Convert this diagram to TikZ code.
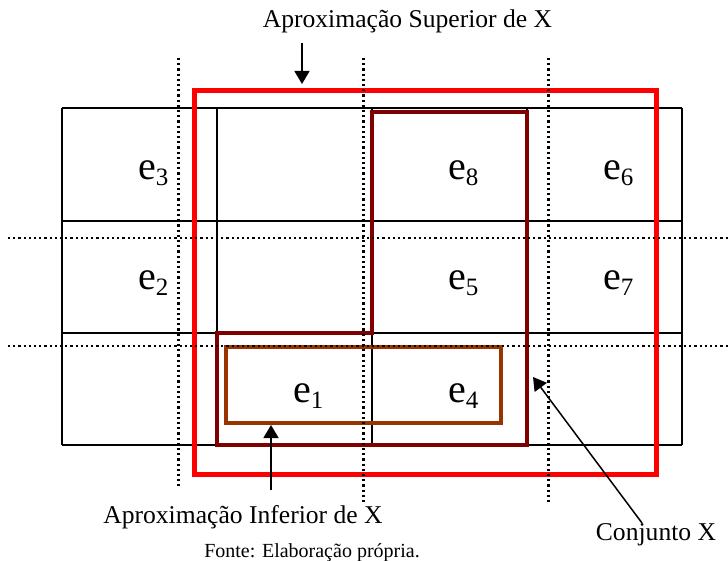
\documentclass[tikz,border=0pt]{standalone}
\usepackage{fontspec}
\setmainfont{Liberation Serif}
\usetikzlibrary{arrows.meta}
\definecolor{xred}{RGB}{255,0,0}
\definecolor{xdark}{RGB}{128,0,0}
\definecolor{xbrown}{RGB}{153,51,0}
\newcommand{\elab}[1]{{\fontsize{40}{40}\selectfont e}\raisebox{-6pt}{\fontsize{25}{25}\selectfont #1}}
\begin{document}
\begin{tikzpicture}[x=1pt,y=-1pt,
  gridline/.style={line width=1.3pt, black},
  dotline/.style={line width=2.2pt, black, dash pattern=on 2.2pt off 3pt},
  arrowline/.style={line width=1.5pt, black, -{Triangle[length=13pt,width=15pt]}},
  lab/.style={inner sep=0pt, font=\fontsize{25.6}{30}\selectfont},
  small/.style={inner sep=0pt, font=\fontsize{20}{24}\selectfont},
  elabel/.style={inner sep=0pt}]
\useasboundingbox (0,0) rectangle (728,561);
% grid
\foreach \y in {108,221,333,445} \draw[gridline] (62,\y) -- (682,\y);
\foreach \x in {62,217,372,527,682} \draw[gridline] (\x,108) -- (\x,445);
% rectangles
\draw[xred, line width=5pt] (194.5,90.5) rectangle (656,474.5);
\draw[xdark, line width=3.5pt, line join=miter] (372,112) -- (527,112) -- (527,445) -- (217,445) -- (217,333) -- (372,333) -- cycle;
\draw[xbrown, line width=4pt] (225.5,347) rectangle (500.5,422.5);
% dotted lines
\draw[dotline] (8,238) -- (728,238);
\draw[dotline] (8,346) -- (728,346);
\draw[dotline] (178.5,58) -- (178.5,486);
\draw[dotline] (363.5,58) -- (363.5,502);
\draw[dotline] (548.5,58) -- (548.5,502);
% cell labels
\node[elabel, anchor=base west] (e3) at (138,180) {\elab{3}};
\node[elabel, anchor=base west] (e8) at (448,180) {\elab{8}};
\node[elabel, anchor=base west] (e6) at (603,180) {\elab{6}};
\node[elabel, anchor=base west] (e2) at (138,290) {\elab{2}};
\node[elabel, anchor=base west] (e5) at (448,290) {\elab{5}};
\node[elabel, anchor=base west] (e7) at (603,290) {\elab{7}};
\node[elabel, anchor=base west] (e1) at (293,402) {\elab{1}};
\node[elabel, anchor=base west] (e4) at (448,402) {\elab{4}};
% labels
\node[lab, anchor=base] (sup) at (407.5,28) {Aproximação Superior de X};
\node[lab, anchor=base] (inf) at (243,523) {Aproximação Inferior de X};
\node[lab, anchor=base] (conj) at (656,540) {Conjunto X};
\node[small, anchor=base] (fonte) at (312,557) {Fonte: Elaboração própria.};
% arrow ends
\coordinate (supA) at (302,43);
\coordinate (supB) at (302,84);
\coordinate (infA) at (271,490);
\coordinate (infB) at (271,425);
\coordinate (conjA) at (642,523);
\coordinate (conjB) at (533,377);
\draw[arrowline] (supA) -- (supB);
\draw[arrowline] (infA) -- (infB);
\draw[arrowline] (conjA) -- (conjB);
\end{tikzpicture}
\end{document}
